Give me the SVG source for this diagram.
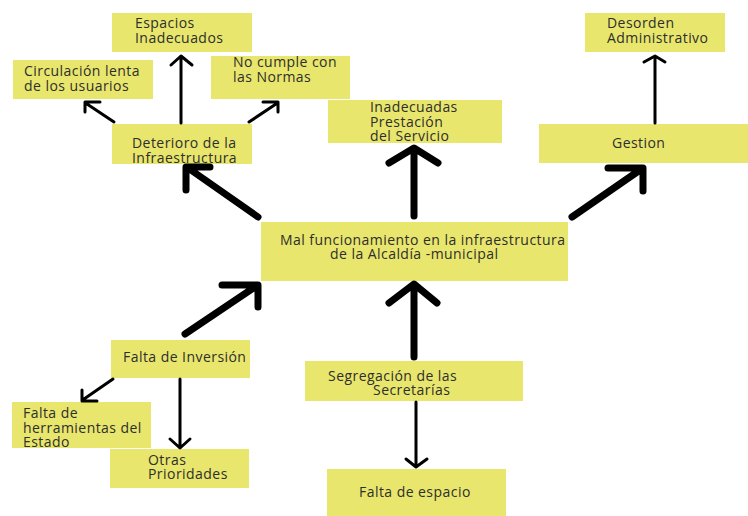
<svg xmlns="http://www.w3.org/2000/svg" width="748" height="516" viewBox="0 0 748 516">
<style>
.box{fill:#e8e66c}
.t{font-family:"Open Sans","Liberation Sans",sans-serif;font-size:14px;letter-spacing:0.45px;fill:#2e2e2e}
.thin{fill:none;stroke:#000;stroke-width:3;stroke-linecap:round;stroke-linejoin:round}
.thick{fill:none;stroke:#000;stroke-width:7;stroke-linecap:round;stroke-linejoin:round}
</style>
<rect width="748" height="516" fill="#fff"/>
<g id="espacios"><rect class="box" x="112" y="13" width="140" height="39"/><text class="t" x="135" y="28">Espacios</text><text class="t" x="135" y="43">Inadecuados</text></g>
<g id="circulacion"><rect class="box" x="13" y="60" width="140" height="39"/><text class="t" x="24" y="76">Circulación lenta</text><text class="t" x="24" y="91">de los usuarios</text></g>
<g id="nocumple"><rect class="box" x="211" y="56" width="139" height="43"/><text class="t" x="233" y="67">No cumple con</text><text class="t" x="233" y="82">las Normas</text></g>
<g id="deterioro"><rect class="box" x="112" y="124" width="140" height="40"/><text class="t" x="132" y="148">Deterioro de la</text><text class="t" x="132" y="163">Infraestructura</text></g>
<g id="inadecuadas"><rect class="box" x="328" y="100" width="174" height="43"/><text class="t" x="370" y="112">Inadecuadas</text><text class="t" x="370" y="127">Prestación</text><text class="t" x="370" y="141">del Servicio</text></g>
<g id="desorden"><rect class="box" x="585" y="13" width="140" height="39"/><text class="t" x="607" y="28">Desorden</text><text class="t" x="607" y="43">Administrativo</text></g>
<g id="gestion"><rect class="box" x="539" y="124" width="209" height="39"/><text class="t" x="612" y="148">Gestion</text></g>
<g id="main"><rect class="box" x="261" y="222" width="307" height="59"/><text class="t" x="280" y="245">Mal funcionamiento en la infraestructura</text><text class="t" x="330" y="259">de la Alcaldía -municipal</text></g>
<g id="inversion"><rect class="box" x="111" y="340" width="139" height="38"/><text class="t" x="123" y="362">Falta de Inversión</text></g>
<g id="herramientas"><rect class="box" x="12" y="402" width="139" height="46"/><text class="t" x="23" y="418">Falta de</text><text class="t" x="23" y="433">herramientas del</text><text class="t" x="23" y="447">Estado</text></g>
<g id="otras"><rect class="box" x="110" y="449" width="139" height="39"/><text class="t" x="148" y="465">Otras</text><text class="t" x="148" y="479">Prioridades</text></g>
<g id="segregacion"><rect class="box" x="305" y="361" width="218" height="40"/><text class="t" x="328" y="381">Segregación de las</text><text class="t" x="373" y="395">Secretarías</text></g>
<g id="espacio"><rect class="box" x="327" y="469" width="179" height="47"/><text class="t" x="359" y="497">Falta de espacio</text></g>
<g id="connectors">
<path class="thin" d="M181 123V58M171 65L181 56L192 65"/>
<path class="thin" d="M114 122L87 104M100 102H85V112"/>
<path class="thin" d="M249 122L276 104M263 102H278V112"/>
<path class="thin" d="M655 123V58M644 62L655 56L665 62"/>
<path class="thin" d="M113 379L84 399M97 401H82V390"/>
<path class="thin" d="M180 379V446M170 439L180 448L190 439"/>
<path class="thin" d="M416 402V465M406 459L416 467L427 459"/>
<path class="thick" d="M258 217L188 168M186 190V167H210"/>
<path class="thick" d="M414 216V150M389 163L414 148L438 163"/>
<path class="thick" d="M572 217L640 170M608 168H643V191"/>
<path class="thick" d="M185 334L255 287M222 285H258V307"/>
<path class="thick" d="M414 357V287M389 303L414 284L437 303"/>
</g>
</svg>
